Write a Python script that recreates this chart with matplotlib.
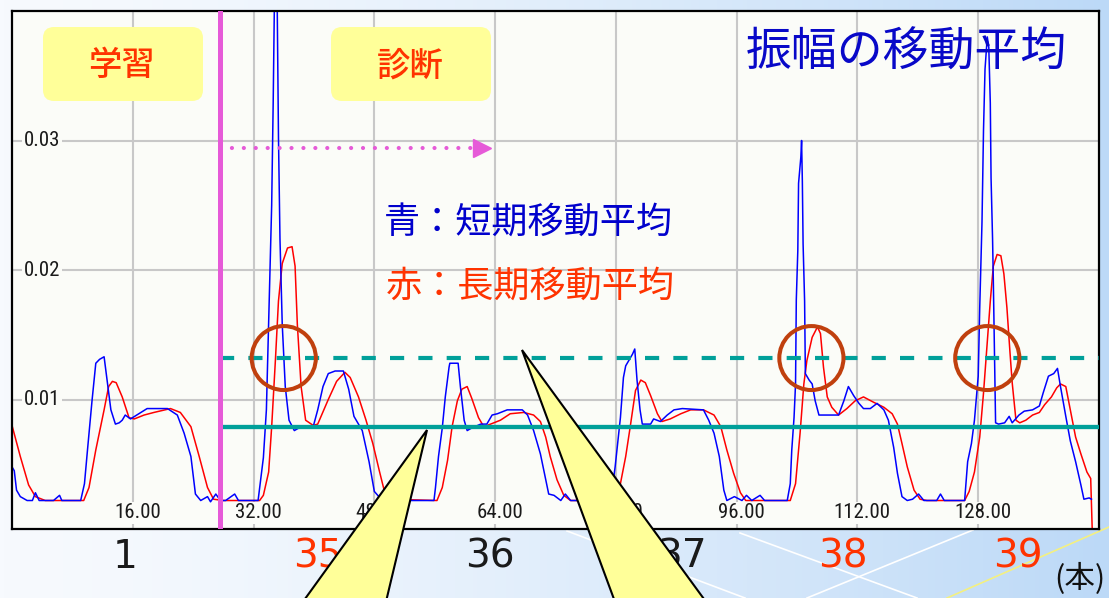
import matplotlib
matplotlib.use("Agg")
import matplotlib.pyplot as plt
import numpy as np
from matplotlib import font_manager
from matplotlib.patches import Ellipse, FancyBboxPatch, Polygon
from matplotlib.transforms import IdentityTransform

plt.rcParams['font.family'] = ['Noto Sans CJK JP', 'DejaVu Sans']

# --- データ（振幅の移動平均） ---
blue_x = [0.0, 0.3, 0.6, 1.1, 2.0, 2.7, 3.1, 3.6, 5.5, 6.3, 6.6, 9.1, 9.6, 10.0, 10.6, 11.1,
          11.6, 12.2, 12.6, 13.1, 13.7, 14.2, 14.6, 15.0, 15.7, 16.8, 17.9, 20.6, 21.9, 22.8,
          23.7, 24.3, 25.0, 25.9, 26.3, 27.0, 27.6, 28.3, 29.5, 30.0, 32.6, 33.3, 33.7, 34.1,
          34.4, 34.6, 34.8, 35.1, 35.3, 35.5, 35.8, 36.2, 36.7, 37.4, 38.3, 39.9, 40.5, 41.2,
          41.9, 42.8, 43.9, 44.6, 45.3, 46.4, 47.3, 48.0, 48.6, 49.5, 50.2, 55.9, 56.1, 56.5,
          57.0, 57.4, 57.9, 58.0, 59.1, 59.4, 59.9, 60.3, 60.9, 62.1, 62.9, 63.6, 64.3, 65.6,
          67.6, 68.3, 69.1, 70.0, 70.7, 71.1, 71.8, 72.7, 73.3, 74.0, 76.5, 77.0, 77.5, 79.3,
          79.9, 80.6, 81.0, 81.3, 81.7, 82.2, 82.5, 82.8, 83.2, 83.5, 84.6, 85.0, 85.9, 86.8,
          87.7, 88.8, 91.6, 92.3, 93.0, 93.7, 94.3, 94.7, 95.7, 96.7, 97.3, 98.0, 99.1, 99.7,
          102.7, 103.1, 103.3, 103.6, 103.8, 103.9, 104.1, 104.2, 104.5, 104.6, 104.7, 104.8,
          105.0, 105.1, 105.6, 106.0, 106.4, 106.9, 108.0, 109.5, 110.2, 110.8, 111.5, 112.2,
          112.8, 113.7, 114.6, 115.5, 116.1, 116.8, 117.3, 117.9, 118.6, 119.3, 120.1, 120.8,
          122.5, 123.0, 123.5, 126.2, 126.6, 127.1, 127.5, 128.0, 128.2, 128.5, 128.7, 128.9,
          129.2, 129.4, 129.6, 129.7, 129.9, 130.0, 130.3, 130.7, 131.5, 132.1, 132.5, 133.4,
          134.1, 135.2, 136.1, 136.6, 137.3, 138.0, 138.5, 138.9, 139.6, 140.2, 140.9, 141.6,
          142.0, 142.7, 143.0]
blue_y = [0.0048, 0.0045, 0.0030, 0.0025, 0.0022, 0.0022, 0.0028, 0.0022, 0.0022, 0.0026,
          0.0022, 0.0022, 0.0035, 0.0061, 0.0099, 0.0128, 0.0131, 0.0133, 0.0115, 0.0092,
          0.0081, 0.0082, 0.0084, 0.0088, 0.0085, 0.0089, 0.0093, 0.0093, 0.0088, 0.0074,
          0.0056, 0.0027, 0.0022, 0.0025, 0.0021, 0.0027, 0.0022, 0.0022, 0.0027, 0.0022,
          0.0022, 0.0055, 0.0092, 0.0184, 0.0250, 0.0329, 0.0425, 0.0425, 0.0303, 0.0224,
          0.0158, 0.0110, 0.0084, 0.0076, 0.0079, 0.0079, 0.0092, 0.0110, 0.0120, 0.0122,
          0.0122, 0.0108, 0.0087, 0.0076, 0.0052, 0.0029, 0.0025, 0.0027, 0.0022, 0.0022,
          0.0032, 0.0056, 0.0078, 0.0102, 0.0125, 0.0128, 0.0128, 0.0110, 0.0084, 0.0076,
          0.0078, 0.0081, 0.0081, 0.0088, 0.0089, 0.0092, 0.0092, 0.0088, 0.0076, 0.0058,
          0.0038, 0.0027, 0.0026, 0.0022, 0.0027, 0.0022, 0.0022, 0.0026, 0.0022, 0.0022,
          0.0048, 0.0086, 0.0117, 0.0126, 0.0130, 0.0135, 0.0139, 0.0115, 0.0092, 0.0081,
          0.0081, 0.0085, 0.0083, 0.0088, 0.0092, 0.0093, 0.0092, 0.0084, 0.0074, 0.0056,
          0.0030, 0.0022, 0.0025, 0.0022, 0.0026, 0.0022, 0.0026, 0.0022, 0.0022, 0.0035,
          0.0061, 0.0086, 0.0112, 0.0177, 0.0215, 0.0267, 0.0287, 0.0300, 0.0269, 0.0220,
          0.0176, 0.0120, 0.0115, 0.0112, 0.0099, 0.0088, 0.0088, 0.0088, 0.0099, 0.0110,
          0.0103, 0.0097, 0.0093, 0.0093, 0.0097, 0.0092, 0.0084, 0.0063, 0.0043, 0.0025,
          0.0022, 0.0023, 0.0027, 0.0022, 0.0022, 0.0027, 0.0022, 0.0022, 0.0052, 0.0066,
          0.0084, 0.0118, 0.0171, 0.0237, 0.0308, 0.0355, 0.0380, 0.0372, 0.0329, 0.0271,
          0.0224, 0.0192, 0.0082, 0.0081, 0.0082, 0.0087, 0.0082, 0.0088, 0.0091, 0.0092,
          0.0095, 0.0105, 0.0118, 0.0120, 0.0124, 0.0110, 0.0087, 0.0068, 0.0052, 0.0034,
          0.0023, 0.0024, 0.0023]

red_x = [0.0, 1.1, 2.2, 3.1, 4.4, 9.5, 10.2, 11.1, 12.2, 12.8, 13.3, 13.8, 14.6, 15.5, 16.2,
         17.5, 18.8, 21.0, 22.3, 23.7, 24.8, 25.9, 26.7, 28.0, 32.8, 33.3, 34.0, 34.4, 34.9,
         35.3, 35.8, 36.5, 37.1, 37.5, 37.8, 38.3, 38.9, 39.9, 40.5, 41.9, 43.0, 44.1, 44.8,
         45.9, 46.9, 47.8, 48.7, 49.3, 50.2, 56.3, 57.0, 57.7, 58.3, 59.0, 59.6, 60.3, 60.9,
         61.8, 62.5, 63.4, 64.7, 66.0, 67.8, 69.1, 70.0, 70.7, 71.3, 72.2, 73.1, 74.0, 80.0,
         80.6, 81.3, 81.9, 82.6, 83.3, 83.9, 84.6, 85.5, 86.1, 87.2, 88.6, 89.9, 91.6, 93.0,
         93.9, 94.7, 95.6, 96.5, 97.2, 103.1, 103.8, 104.4, 104.9, 105.3, 106.0, 106.7, 107.1,
         107.5, 108.0, 108.6, 109.5, 110.6, 111.7, 112.8, 114.1, 115.5, 116.6, 117.3, 117.9,
         118.6, 119.5, 120.3, 121.2, 126.2, 126.8, 127.5, 128.2, 128.7, 129.2, 129.6, 130.0,
         130.5, 131.0, 131.4, 131.8, 132.2, 132.5, 133.0, 133.5, 134.3, 135.2, 136.1, 136.8,
         137.7, 138.4, 138.9, 139.6, 140.2, 140.9, 141.6, 142.4, 142.9, 143.1]
red_y = [0.0080, 0.0056, 0.0034, 0.0025, 0.0022, 0.0022, 0.0032, 0.0061, 0.0092, 0.0110,
         0.0114, 0.0113, 0.0102, 0.0086, 0.0085, 0.0088, 0.0090, 0.0093, 0.0090, 0.0079,
         0.0056, 0.0032, 0.0023, 0.0022, 0.0022, 0.0026, 0.0044, 0.0079, 0.0131, 0.0176,
         0.0205, 0.0217, 0.0218, 0.0203, 0.0158, 0.0110, 0.0084, 0.0080, 0.0081, 0.0100,
         0.0114, 0.0121, 0.0117, 0.0102, 0.0084, 0.0066, 0.0044, 0.0030, 0.0023, 0.0022,
         0.0032, 0.0053, 0.0079, 0.0099, 0.0108, 0.0110, 0.0101, 0.0086, 0.0079, 0.0081,
         0.0084, 0.0089, 0.0090, 0.0088, 0.0083, 0.0071, 0.0056, 0.0038, 0.0026, 0.0022,
         0.0022, 0.0035, 0.0056, 0.0079, 0.0107, 0.0115, 0.0113, 0.0103, 0.0089, 0.0083,
         0.0085, 0.0089, 0.0092, 0.0092, 0.0088, 0.0079, 0.0061, 0.0043, 0.0028, 0.0022,
         0.0022, 0.0035, 0.0074, 0.0112, 0.0130, 0.0148, 0.0156, 0.0151, 0.0125, 0.0102,
         0.0094, 0.0088, 0.0093, 0.0099, 0.0102, 0.0098, 0.0094, 0.0089, 0.0081, 0.0066,
         0.0048, 0.0030, 0.0023, 0.0022, 0.0022, 0.0029, 0.0044, 0.0071, 0.0105, 0.0145,
         0.0176, 0.0203, 0.0212, 0.0211, 0.0197, 0.0171, 0.0137, 0.0113, 0.0084, 0.0082,
         0.0084, 0.0088, 0.0090, 0.0096, 0.0102, 0.0109, 0.0112, 0.0110, 0.0092, 0.0071,
         0.0058, 0.0044, 0.0039, 0.0000]

x_ticks = [16, 32, 48, 64, 80, 96, 112, 128]
y_ticks = [0.01, 0.02, 0.03]
learn_end = 27.5          # 学習 / 診断 の境界
thr_high = 0.0132         # 点線しきい値
thr_low = 0.0079          # 実線しきい値
alarm_x = [36.0, 105.9, 129.2]
file_labels = ['1', '35', '36', '37', '38', '39']
file_alarm = [False, True, False, False, True, True]

W, H = 1109, 598
fig = plt.figure(figsize=(W / 100, H / 100), dpi=100)

# 背景グラデーション
bg = fig.add_axes([0, 0, 1, 1], zorder=-2)
t = np.linspace(0, 1, 300) ** 1.4
c0 = np.array([247, 250, 254]) / 255
c1 = np.array([188, 217, 247]) / 255
grad = (c0[None, :] * (1 - t[:, None]) + c1[None, :] * t[:, None])[None, :, :]
bg.imshow(grad, aspect='auto', extent=[0, W, H, 0])
for (xa, ya), (xb, yb) in [((567, 531), (745, 598)), ((740, 533), (917, 598)),
                           ((807, 598), (973, 530))]:
    bg.plot([xa, xb], [ya, yb], color='white', lw=1.2)
bg.plot([947, 1109], [598, 527], color='#f4f080', lw=1.2)
bg.set_xlim(0, W)
bg.set_ylim(H, 0)
bg.axis('off')

# メイン
ax = fig.add_axes([12 / W, 1 - 529 / H, 1087 / W, 518 / H])
axbg = '#fbfcf8'
ax.set_facecolor(axbg)
ax.set_xlim(0, 144)
ax.set_ylim(0, 0.04)
ax.set_xticks([])
ax.set_yticks([])
for s in ax.spines.values():
    s.set_color('black')
    s.set_linewidth(1.6)

for v in x_ticks:
    ax.axvline(v, color='#c8c8c8', lw=1.5, zorder=0.5)
for v in y_ticks:
    ax.axhline(v, color='#c8c8c8', lw=1.5, zorder=0.5)

# 目盛ラベル用の細いフォントを探す
fl = font_manager.fontManager.ttflist
names = {f.name for f in fl}
tick_kw = dict(family='DejaVu Sans Mono', fontsize=12)
if 'Liberation Sans Narrow' in names:
    tick_kw = dict(family='Liberation Sans Narrow', fontsize=15)
elif 'Roboto Condensed' in names:
    tick_kw = dict(family='Roboto Condensed', fontsize=15)
elif any(f.name == 'DejaVu Sans' and 'condensed' in str(f.stretch) for f in fl):
    tick_kw = dict(family='DejaVu Sans', fontstretch='condensed', fontsize=15)

for v in y_ticks:
    ax.text(0.011, v, f'{v:.2f}', transform=ax.get_yaxis_transform(), ha='left', va='center',
            color='#1a1a1a', zorder=1, bbox=dict(fc=axbg, ec='none', pad=1), **tick_kw)
for v in x_ticks:
    ax.text(v + 0.6, 0.031, f'{v:.2f}', transform=ax.get_xaxis_transform(), ha='center',
            va='center', color='#1a1a1a', zorder=1, bbox=dict(fc=axbg, ec='none', pad=1),
            **tick_kw)

ax.plot(red_x, red_y, color='#ff0000', lw=1.1, zorder=2)
ax.plot(blue_x, blue_y, color='#0000ff', lw=1.1, zorder=2.1)

teal = '#00a09a'
ax.hlines(thr_high, learn_end, 144, color=teal, lw=3.0, linestyles=(0, (3.4, 3.4)), zorder=3)
ax.hlines(thr_low, learn_end, 144, color=teal, lw=3.1, zorder=3)

pink = '#e65ad8'
ax.axvline(learn_end, color=pink, lw=3.6, zorder=3.5)
ax.plot([learn_end, 61.6], [0.0294, 0.0294], color=pink, lw=3.0, dashes=(0.01, 2.85),
        dash_capstyle='round', zorder=3.5)
ax.plot([62.3], [0.0294], marker='>', color=pink, markersize=13, zorder=3.5)

for cx in alarm_x:
    ax.add_patch(Ellipse((cx, thr_high), 8.5, 0.00494, fill=False, ec='#c0400e', lw=2.9,
                         zorder=4))

# 学習 / 診断 ボックス
for x0, label, tx in [(43, '学習', 122), (331, '診断', 410)]:
    fig.add_artist(FancyBboxPatch((x0, H - 101), 160, 74,
                                  boxstyle='round,pad=0,rounding_size=11',
                                  transform=IdentityTransform(), fc='#ffff99', ec='none',
                                  zorder=3))
    fig.text(tx / W, 1 - 66 / H, label, fontsize=24, color='#ff3300', weight='medium',
             ha='center', va='center', zorder=4)

fig.text(906 / W, 1 - 52 / H, '振幅の移動平均', fontsize=33, color='#0808c8',
         ha='center', va='center', zorder=4)
fig.text(528 / W, 1 - 223 / H, '青：短期移動平均', fontsize=26, color='#0000cc',
         ha='center', va='center', zorder=4)
fig.text(530 / W, 1 - 287 / H, '赤：長期移動平均', fontsize=26, color='#ff3300',
         ha='center', va='center', zorder=4)

# 軸下のファイル番号
file_pos = [125, 318, 490, 682, 843, 1018]
for lab, alarm, xp in zip(file_labels, file_alarm, file_pos):
    fig.text(xp / W, 1 - 557 / H, lab, fontsize=28, family='DejaVu Sans',
             color='#ff3300' if alarm else '#1a1a1a', ha='center', va='center', zorder=2)
fig.text(1080 / W, 1 - 579 / H, '(本)', fontsize=22, color='#111111',
         ha='center', va='center', zorder=2)

# 吹き出し三角
for pts in [[(427, 430), (297, 610), (384, 610)], [(522, 350), (618, 610), (712, 610)]]:
    fig.add_artist(Polygon([(x, H - y) for x, y in pts], closed=True,
                           transform=IdentityTransform(), fc='#ffff99', ec='black',
                           lw=1.5, zorder=10))

fig.savefig('out.png', dpi=100)
